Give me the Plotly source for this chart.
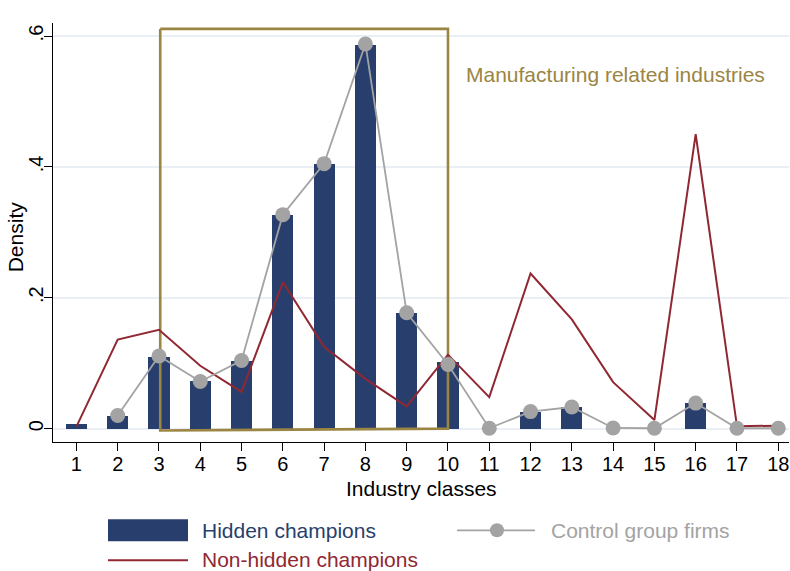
import plotly.graph_objects as go

# ---- data ----
industry_classes = list(range(1, 19))
hidden_champions = [0.007, 0.019, 0.110, 0.072, 0.104, 0.326, 0.404, 0.587, 0.176, 0.102,
                    0.0, 0.026, 0.033, 0.0, 0.0, 0.039, 0.0, 0.0]
control_x = list(range(2, 19))
control_group = [0.020, 0.111, 0.072, 0.104, 0.327, 0.405, 0.588, 0.177, 0.098,
                 0.0005, 0.026, 0.033, 0.001, 0.0005, 0.039, 0.0005, 0.0005]
non_hidden = [0.003, 0.136, 0.151, 0.096, 0.056, 0.224, 0.125, 0.076, 0.034, 0.113,
              0.048, 0.237, 0.167, 0.071, 0.013, 0.450, 0.0035, 0.0045]
y_tickvals = [0, 0.2, 0.4, 0.6]
y_ticktext = ["0", ".2", ".4", ".6"]
box_x_left, box_x_right = 3.03, 10.0
box_top, box_bottom_left, box_bottom_right = 0.611, -0.003, 0.0
box_label = "Manufacturing related industries"
x_title = "Industry classes"
y_title = "Density"
legend_labels = ["Hidden champions", "Non-hidden champions", "Control group firms"]

NAVY = "#283f6d"
RED = "#902833"
GRAY = "#a3a3a3"
GOLD = "#9b8542"
FONT = "Liberation Sans, Arial, Helvetica, sans-serif"
FS = 21
TFS = 20

fig = go.Figure()
fig.add_trace(go.Bar(x=industry_classes, y=hidden_champions, width=0.51,
                     marker=dict(color=NAVY, line=dict(width=0)),
                     name=legend_labels[0], showlegend=False))
fig.add_trace(go.Scatter(x=[box_x_left, box_x_right, box_x_right, box_x_left, box_x_left],
                         y=[box_top, box_top, box_bottom_right, box_bottom_left, box_top],
                         mode="lines", line=dict(color=GOLD, width=2.6),
                         showlegend=False, hoverinfo="skip"))
fig.add_trace(go.Scatter(x=industry_classes, y=non_hidden, mode="lines",
                         line=dict(color=RED, width=2), name=legend_labels[1],
                         showlegend=False))
fig.add_trace(go.Scatter(x=control_x, y=control_group, mode="lines+markers",
                         line=dict(color=GRAY, width=1.8),
                         marker=dict(color=GRAY, size=15),
                         name=legend_labels[2], showlegend=False))

# pixel -> paper helpers
L, R, T, B = 53, 789, 22.7, 441.7
W, H = R - L, B - T
def px(xp):
    return (xp - L) / W
def py(yp):
    return (B - yp) / H

fig.add_annotation(x=px(464), y=py(74), xref="paper", yref="paper", text=box_label,
                   showarrow=False, xanchor="left", yanchor="middle",
                   font=dict(family=FONT, size=FS, color=GOLD))
fig.add_annotation(x=px(421), y=py(488), xref="paper", yref="paper", text=x_title,
                   showarrow=False, xanchor="center", yanchor="middle",
                   font=dict(family=FONT, size=FS, color="black"))
fig.add_annotation(x=px(15), y=py(237), xref="paper", yref="paper", text=y_title,
                   textangle=-90, showarrow=False, xanchor="center", yanchor="middle",
                   font=dict(family=FONT, size=FS, color="black"))

# legend (manual)
shapes = [
    dict(type="rect", xref="paper", yref="paper", x0=px(108), x1=px(188), y0=py(541), y1=py(519),
         fillcolor=NAVY, line=dict(width=0)),
    dict(type="line", xref="paper", yref="paper", x0=px(108), x1=px(188), y0=py(560), y1=py(560),
         line=dict(color=RED, width=2)),
    dict(type="line", xref="paper", yref="paper", x0=px(457), x1=px(535), y0=py(530), y1=py(530),
         line=dict(color=GRAY, width=1.8)),
    dict(type="circle", xref="paper", yref="paper", xsizemode="pixel", ysizemode="pixel",
         xanchor=px(497), yanchor=py(530), x0=-7, x1=7, y0=-7, y1=7,
         fillcolor=GRAY, line=dict(width=0)),
]
fig.update_layout(shapes=shapes)
for text, x, y, c in [(legend_labels[0], 200, 530, NAVY),
                      (legend_labels[1], 200, 559, RED),
                      (legend_labels[2], 549, 530, GRAY)]:
    fig.add_annotation(x=px(x), y=py(y), xref="paper", yref="paper", text=text,
                       showarrow=False, xanchor="left", yanchor="middle",
                       font=dict(family=FONT, size=FS, color=c))

fig.update_layout(
    width=790, height=571,
    margin=dict(l=L, r=790 - R, t=T, b=571 - B, pad=0),
    paper_bgcolor="white", plot_bgcolor="white",
    font=dict(family=FONT, size=FS, color="black"),
    showlegend=False,
    bargap=0,
    xaxis=dict(range=[0.433, 18.26], tickvals=industry_classes, automargin=False,
               ticks="outside", ticklen=8, tickwidth=1.3, tickcolor="black",
               showline=True, linecolor="black", linewidth=1.3,
               showgrid=False, zeroline=False, tickfont=dict(size=TFS),
               ticklabelstandoff=-4),
    yaxis=dict(range=[-0.0205, 0.62], tickvals=y_tickvals, ticktext=y_ticktext,
               automargin=False,
               tickangle=-90, ticks="outside", ticklen=8, tickwidth=1.3, tickcolor="black",
               showline=True, linecolor="black", linewidth=1.3,
               showgrid=True, gridcolor="#e9eff4", gridwidth=1.5, zeroline=False,
               tickfont=dict(size=TFS), ticklabelstandoff=-7),
)

fig.write_html("out.html", config={"displayModeBar": False},
               post_script="document.body.style.margin='0';document.body.style.overflow='hidden';")
